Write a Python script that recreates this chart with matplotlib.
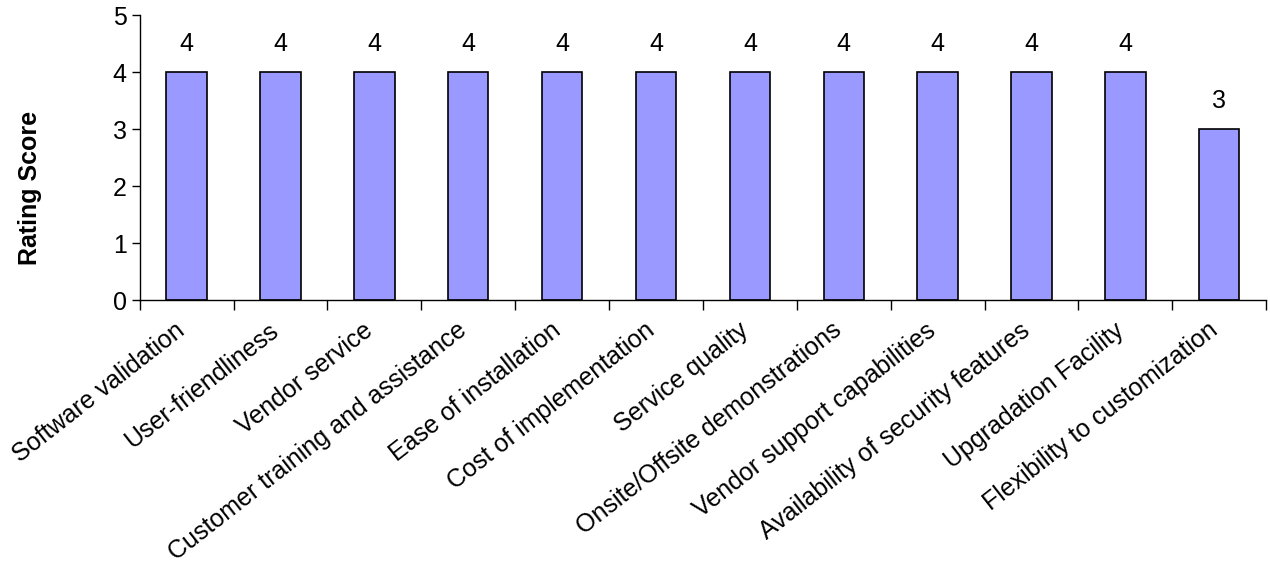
import matplotlib.pyplot as plt
import matplotlib.transforms as mtransforms
import numpy as np

plt.rcParams["font.family"] = ["Liberation Sans", "DejaVu Sans"]

categories = [
    "Software validation",
    "User-friendliness",
    "Vendor service",
    "Customer training and assistance",
    "Ease of installation",
    "Cost of implementation",
    "Service quality",
    "Onsite/Offsite demonstrations",
    "Vendor support capabilities",
    "Availability of security features",
    "Upgradation Facility",
    "Flexibility to customization",
]
scores = [4, 4, 4, 4, 4, 4, 4, 4, 4, 4, 4, 3]

fig = plt.figure(figsize=(12.7, 5.64), dpi=100)
ax = fig.add_axes([0.110, 0.468, 0.887, 0.505])

x = np.arange(len(categories))
bars = ax.bar(x, scores, width=0.43, color="#9999FF", edgecolor="black", linewidth=1.2)

for b, v in zip(bars, scores):
    ax.annotate(str(v), (b.get_x() + b.get_width() / 2, v),
                xytext=(0, 20), textcoords="offset points",
                ha="center", va="center", fontsize=18)

ax.set_xlim(-0.5, len(categories) - 0.5)
ax.set_ylim(0, 5)
ax.set_yticks(range(6))
ax.tick_params(axis="y", labelsize=18, length=6, width=1, direction="out")

# category labels at centres, tick marks at the boundaries
ax.set_xticks(x)
ax.set_xticklabels(categories, rotation=38, ha="right", rotation_mode="anchor", fontsize=18)
ax.tick_params(axis="x", which="major", length=0, pad=13)
shift = mtransforms.ScaledTranslation(-12 / 100, 0, fig.dpi_scale_trans)
for lbl in ax.get_xticklabels():
    lbl.set_transform(lbl.get_transform() + shift)
ax.set_xticks(np.arange(-0.5, len(categories)), minor=True)
ax.tick_params(axis="x", which="minor", length=7, width=1, direction="out")

fig.text(30 / 1270, 1 - 188 / 564, "Rating Score", rotation=90,
         ha="center", va="center", fontsize=18, fontweight="bold")

for s in ["top", "right"]:
    ax.spines[s].set_visible(False)
for s in ["left", "bottom"]:
    ax.spines[s].set_linewidth(1)

fig.savefig("out.png", dpi=100)
